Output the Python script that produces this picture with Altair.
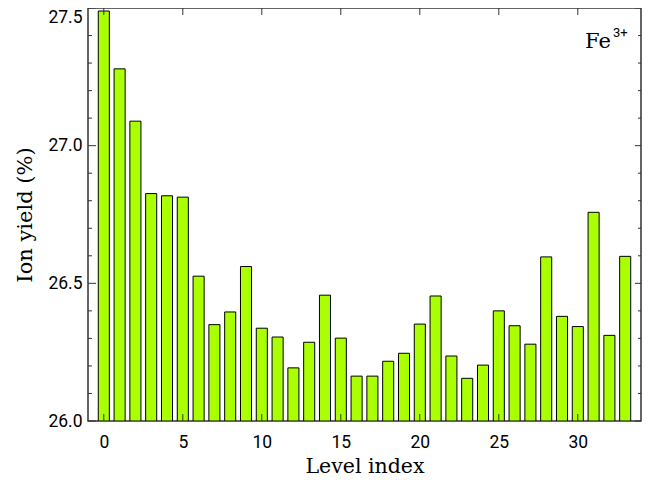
import altair as alt
import pandas as pd

levels = list(range(34))
yields = [27.489, 27.279, 27.089, 26.826, 26.818, 26.813, 26.526, 26.350, 26.396, 26.561,
          26.337, 26.305, 26.193, 26.286, 26.457, 26.301, 26.163, 26.163, 26.217, 26.246,
          26.352, 26.454, 26.236, 26.155, 26.203, 26.400, 26.346, 26.279, 26.596, 26.380,
          26.343, 26.758, 26.311, 26.598]
x_ticks = [0, 5, 10, 15, 20, 25, 30]
y_major = [26.0, 26.5, 27.0, 27.5]
y_minor = [26.1, 26.2, 26.3, 26.4, 26.6, 26.7, 26.8, 26.9, 27.1, 27.2, 27.3, 27.4]

W, H = 553, 413
XDOM = [-1, 34]
YDOM = [26.0, 27.5]

df = pd.DataFrame({"level": levels, "yield": yields})
df["x0"] = df["level"] - 0.35
df["x1"] = df["level"] + 0.35
df["base"] = 26.0

xs = alt.Scale(domain=XDOM, nice=False, zero=False)
ys = alt.Scale(domain=YDOM, nice=False, zero=False)

FONT_T = "DejaVu Serif"
FONT_L = "Roboto"

bars = alt.Chart(df).mark_bar(fill="#aaff00", stroke="#000000", strokeWidth=1, clip=True).encode(
    x=alt.X("x0:Q", scale=xs, axis=alt.Axis(values=x_ticks, title="Level index", ticks=False,
                                           domain=False, grid=False, labelPadding=12,
                                           labelFont=FONT_L, labelFontSize=17.5, labelColor="#000",
                                           titleFont=FONT_T, titleFontSize=20.5, titleFontWeight="normal",
                                           titleColor="#000", titlePadding=6)),
    x2="x1:Q",
    y=alt.Y("yield:Q", scale=ys, axis=alt.Axis(values=y_major, format=".1f", title="Ion yield (%)",
                                              ticks=False, domain=False, grid=False, labelPadding=6,
                                              labelBaseline={"condition": {"test": "datum.value >= 27.5", "value": "top"}, "value": "middle"},
                                              labelFont=FONT_L, labelFontSize=17.5, labelColor="#000",
                                              titleFont=FONT_T, titleFontSize=21, titleFontWeight="normal",
                                              titleColor="#000", titlePadding=12)),
    y2="base:Q",
)

ymaj = pd.DataFrame({"v": y_major})
ymin = pd.DataFrame({"v": y_minor})
xt = pd.DataFrame({"v": x_ticks})

tick_col = "#333333"
left_major = alt.Chart(ymaj).mark_rule(color=tick_col, strokeWidth=1).encode(
    y=alt.Y("v:Q", scale=ys), x=alt.value(0), x2=alt.value(8))
left_minor = alt.Chart(ymin).mark_rule(color=tick_col, strokeWidth=1).encode(
    y=alt.Y("v:Q", scale=ys), x=alt.value(0), x2=alt.value(4))
right_major = alt.Chart(ymaj).mark_rule(color=tick_col, strokeWidth=1).encode(
    y=alt.Y("v:Q", scale=ys), x=alt.value(W), x2=alt.value(W - 6))
right_minor = alt.Chart(ymin).mark_rule(color=tick_col, strokeWidth=1).encode(
    y=alt.Y("v:Q", scale=ys), x=alt.value(W), x2=alt.value(W - 3))
bottom = alt.Chart(xt).mark_rule(color=tick_col, strokeWidth=1).encode(
    x=alt.X("v:Q", scale=xs), y=alt.value(H), y2=alt.value(H - 7))
top = alt.Chart(xt).mark_rule(color=tick_col, strokeWidth=1).encode(
    x=alt.X("v:Q", scale=xs), y=alt.value(0), y2=alt.value(7))

lab = pd.DataFrame({"t": ["Fe"], "s": ["3+"]})
fe = alt.Chart(lab).mark_text(font=FONT_T, fontSize=21, align="left", baseline="alphabetic", color="#000").encode(
    text="t:N", x=alt.value(497), y=alt.value(40))
sup = alt.Chart(lab).mark_text(font=FONT_L, fontSize=13, align="left", baseline="alphabetic", color="#000").encode(
    text="s:N", x=alt.value(525), y=alt.value(29))

chart = alt.layer(bars, left_major, left_minor, right_major, right_minor, bottom, top, fe, sup).properties(
    width=W, height=H,
    autosize=alt.AutoSizeParams(type="none"),
    padding={"left": 80, "top": 0, "right": 1, "bottom": 62},
    background="white",
).configure_view(stroke="#333333", strokeWidth=1.5)

chart.save("out.html", embed_options={"renderer": "svg", "actions": False})
